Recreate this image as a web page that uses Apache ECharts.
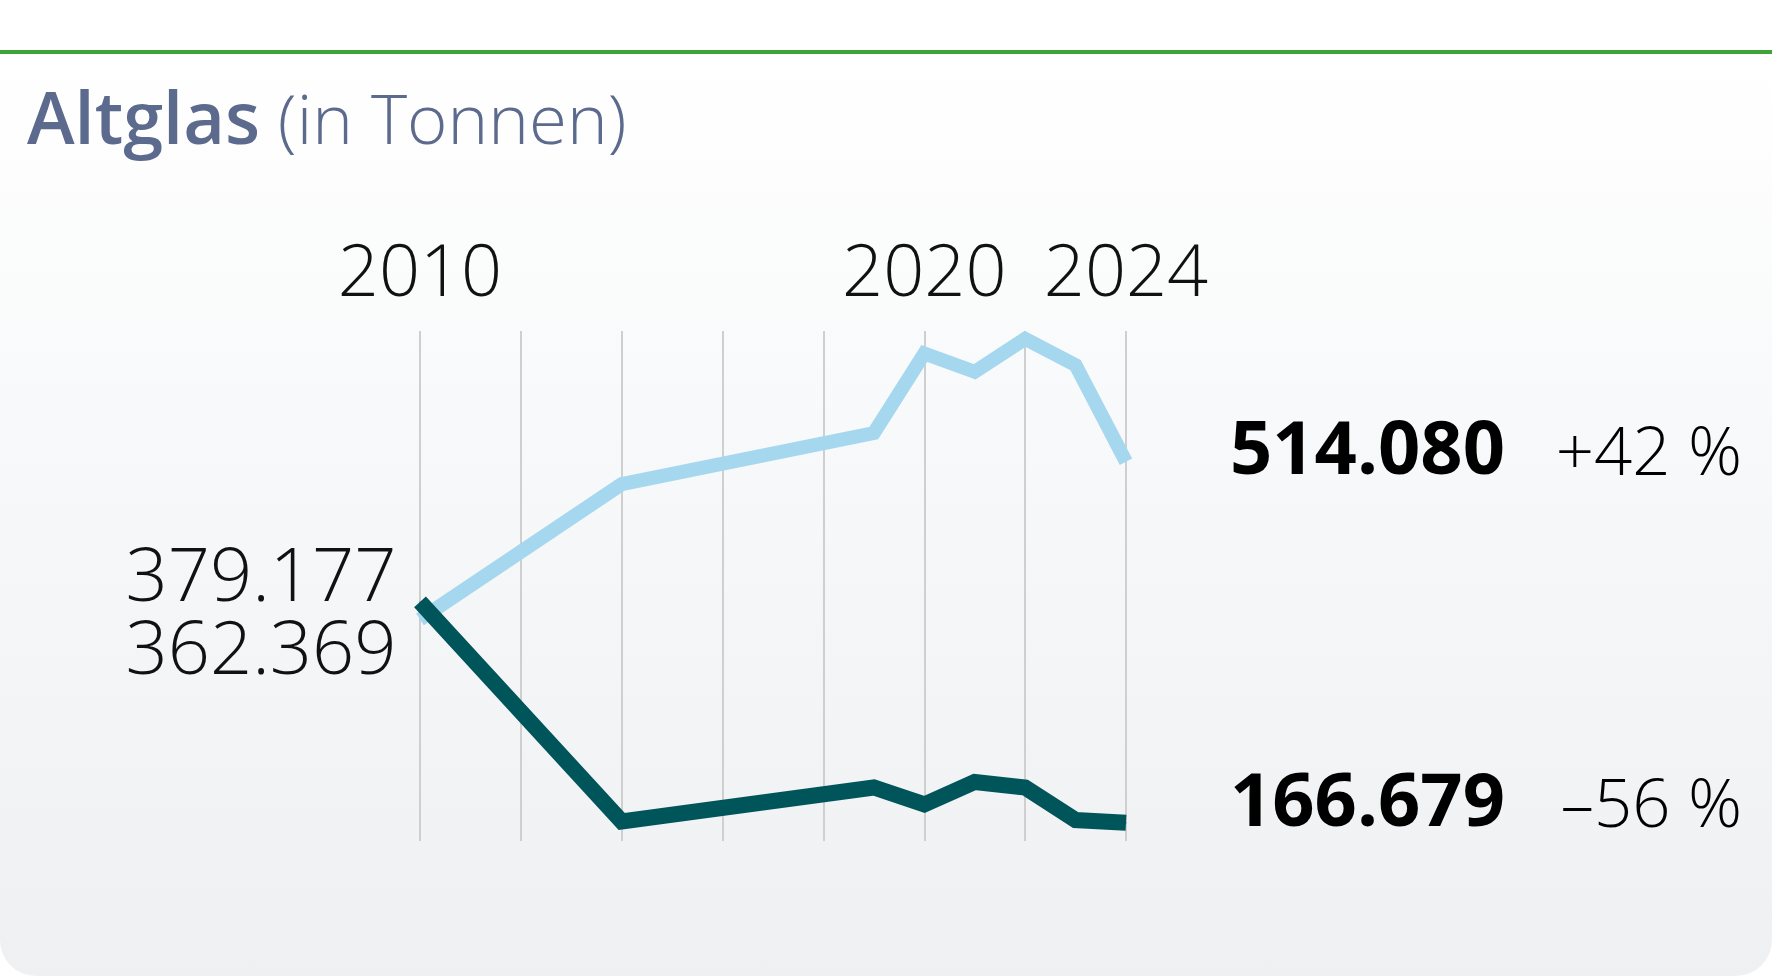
<!DOCTYPE html>
<html>
<head>
<meta charset="utf-8">
<script src="https://cdn.jsdelivr.net/npm/echarts@6/dist/echarts.min.js"></script>
<style>
  html, body { margin: 0; padding: 0; background: #ffffff; }
  #bg {
    position: absolute; left: 0; top: 50px; width: 1772px; height: 926px;
    box-sizing: border-box; border-top: 4px solid #3ea436;
    background: linear-gradient(to bottom, #ffffff 0%, #f8f9fa 40%, #eff0f2 100%);
    border-radius: 0 0 36px 36px;
  }
  #chart { position: absolute; left: 0; top: 0; width: 1772px; height: 976px; }
</style>
</head>
<body>
<div id="bg"></div>
<div id="chart"></div>
<script>
// ---- data ----
const years = [2010, 2014, 2019, 2020, 2021, 2022, 2023, 2024];
const lightValues = [362.369, 492.6, 541.7, 618.4, 600.7, 632.5, 607.2, 514.080];
const darkValues  = [379.177, 167.8, 200.5, 184.2, 205.8, 200.5, 169.2, 166.679];
const startLabels = ['362.369', '379.177'];   // light, dark
const endLabels   = ['514.080', '166.679'];
const changeLabels = ['+42 %', '–56 %'];
const tickLabels = [2010, 2020, 2024];

const FONT = '"Open Sans", "Noto Sans", sans-serif';

function buildData(vals, startText, startOffset) {
  return years.map((y, i) => {
    if (i === 0) {
      return {
        value: [y, vals[i]],
        label: {
          show: true, position: 'left', distance: 23, offset: [0, startOffset],
          formatter: startText, fontFamily: FONT, fontSize: 74, fontWeight: 300,
          color: '#111111', lineHeight: 74
        }
      };
    }
    return [y, vals[i]];
  });
}

function endLabel(idx, dy) {
  return {
    show: true, distance: 0, offset: [104, dy],
    formatter: '{v|' + endLabels[idx] + '}{p|' + changeLabels[idx] + '}',
    rich: {
      v: { fontFamily: FONT, fontSize: 74, fontWeight: 'bold', color: '#000', width: 280, align: 'left', lineHeight: 80, verticalAlign: 'bottom' },
      p: { fontFamily: FONT, fontSize: 67, fontWeight: 300, color: '#000', width: 232, align: 'right', lineHeight: 80, verticalAlign: 'bottom' }
    }
  };
}

const chart = echarts.init(document.getElementById('chart'), null, { renderer: 'canvas' });
chart.setOption({
  animation: false,
  backgroundColor: 'transparent',
  title: {
    left: 22, top: 64,
    text: '{a|Altglas}{b| (in Tonnen)}',
    textStyle: {
      rich: {
        a: { fontFamily: FONT, fontSize: 72, fontWeight: 600, color: '#5b6a8d', lineHeight: 90, verticalAlign: 'bottom' },
        b: { fontFamily: FONT, fontSize: 69, fontWeight: 300, color: '#5b6a8d', lineHeight: 90, verticalAlign: 'bottom' }
      }
    }
  },
  grid: { left: 420, width: 706, top: 331, height: 510 },
  xAxis: {
    type: 'value', position: 'top', min: 2010, max: 2024, interval: 2,
    axisLine: { show: false }, axisTick: { show: false },
    axisLabel: {
      margin: 20, fontFamily: FONT, fontSize: 72, fontWeight: 300, color: '#111111', lineHeight: 72,
      formatter: v => tickLabels.indexOf(v) >= 0 ? String(v) : ''
    },
    splitLine: { show: true, lineStyle: { color: '#cfcfcf', width: 2 } }
  },
  yAxis: {
    type: 'value', min: 149, max: 640, show: false,
    splitLine: { show: false }
  },
  series: [
    {
      name: 'light', type: 'line', symbol: 'circle', symbolSize: 1, showSymbol: true,
      itemStyle: { color: '#a5d8ee' },
      lineStyle: { color: '#a5d8ee', width: 14, join: 'miter', cap: 'butt' },
      data: buildData(lightValues, startLabels[0], 34),
      endLabel: endLabel(0, -12),
      z: 2
    },
    {
      name: 'dark', type: 'line', symbol: 'circle', symbolSize: 1, showSymbol: true,
      itemStyle: { color: '#00555a' },
      lineStyle: { color: '#00555a', width: 16, join: 'miter', cap: 'butt' },
      data: buildData(darkValues, startLabels[1], -22),
      endLabel: endLabel(1, -21),
      z: 3
    }
  ]
});
</script>
</body>
</html>
